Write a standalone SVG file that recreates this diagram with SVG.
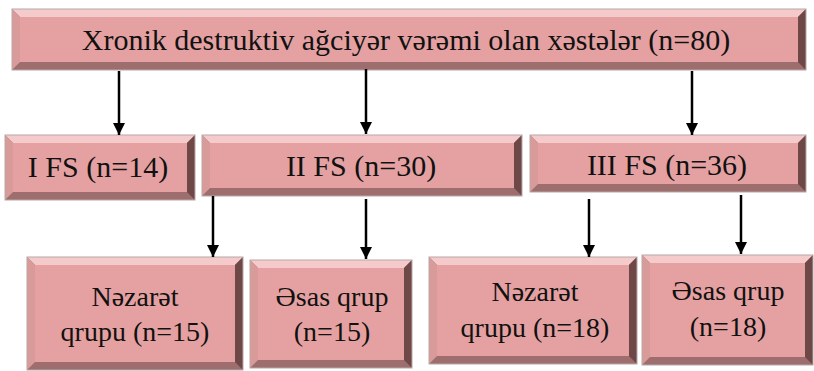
<svg xmlns="http://www.w3.org/2000/svg" width="814" height="371" viewBox="0 0 814 371">
<defs>
<marker id="ah" viewBox="0 0 10 10" refX="10" refY="5" markerWidth="5" markerHeight="5" orient="auto" markerUnits="strokeWidth">
<path d="M0,0 L10,5 L0,10 z" fill="#000"/>
</marker>
</defs>
<rect width="814" height="371" fill="#fff"/>

<g id="n-top" fill="#E5A1A1">
<rect fill="#9E6D6D" x="12" y="9" width="794" height="61"/>
<polygon fill="#F4CACA" points="12,9 806,9 798,17 20,17"/>
<polygon fill="#D99A9A" points="12,9 20,17 20,62 12,70"/>
<polygon fill="#6E4747" points="806,9 806,70 798,62 798,17"/>
<rect x="20" y="17" width="778" height="45"/>
<rect fill="none" stroke="#B8A8A8" x="12" y="9" width="794" height="61"/>
<text fill="#111" text-anchor="middle" font-family="'Liberation Serif', 'Times New Roman', serif" font-size="30" x="406" y="50">Xronik destruktiv ağciyər vərəmi olan xəstələr (n=80)</text>
</g>

<g id="n-fs1" fill="#E5A1A1">
<rect fill="#9E6D6D" x="5" y="135" width="190" height="65"/>
<polygon fill="#F4CACA" points="5,135 195,135 187,143 13,143"/>
<polygon fill="#D99A9A" points="5,135 13,143 13,192 5,200"/>
<polygon fill="#6E4747" points="195,135 195,200 187,192 187,143"/>
<rect x="13" y="143" width="174" height="49"/>
<rect fill="none" stroke="#B8A8A8" x="5" y="135" width="190" height="65"/>
<text fill="#111" text-anchor="middle" font-family="'Liberation Serif', 'Times New Roman', serif" font-size="30" x="98" y="177">I FS (n=14)</text>
</g>

<g id="n-fs2" fill="#E5A1A1">
<rect fill="#9E6D6D" x="202" y="135" width="320" height="61"/>
<polygon fill="#F4CACA" points="202,135 522,135 514,143 210,143"/>
<polygon fill="#D99A9A" points="202,135 210,143 210,188 202,196"/>
<polygon fill="#6E4747" points="522,135 522,196 514,188 514,143"/>
<rect x="210" y="143" width="304" height="45"/>
<rect fill="none" stroke="#B8A8A8" x="202" y="135" width="320" height="61"/>
<text fill="#111" text-anchor="middle" font-family="'Liberation Serif', 'Times New Roman', serif" font-size="30" x="361" y="176">II FS (n=30)</text>
</g>

<g id="n-fs3" fill="#E5A1A1">
<rect fill="#9E6D6D" x="530" y="135" width="276" height="57"/>
<polygon fill="#F4CACA" points="530,135 806,135 798,143 538,143"/>
<polygon fill="#D99A9A" points="530,135 538,143 538,184 530,192"/>
<polygon fill="#6E4747" points="806,135 806,192 798,184 798,143"/>
<rect x="538" y="143" width="260" height="41"/>
<rect fill="none" stroke="#B8A8A8" x="530" y="135" width="276" height="57"/>
<text fill="#111" text-anchor="middle" font-family="'Liberation Serif', 'Times New Roman', serif" font-size="30" x="667" y="175">III FS (n=36)</text>
</g>

<g id="n-n15" fill="#E5A1A1">
<rect fill="#9E6D6D" x="27" y="257" width="216" height="113"/>
<polygon fill="#F4CACA" points="27,257 243,257 235,265 35,265"/>
<polygon fill="#D99A9A" points="27,257 35,265 35,362 27,370"/>
<polygon fill="#6E4747" points="243,257 243,370 235,362 235,265"/>
<rect x="35" y="265" width="200" height="97"/>
<rect fill="none" stroke="#B8A8A8" x="27" y="257" width="216" height="113"/>
<text fill="#111" text-anchor="middle" font-family="'Liberation Serif', 'Times New Roman', serif" font-size="28" x="135" y="306">Nəzarət</text>
<text fill="#111" text-anchor="middle" font-family="'Liberation Serif', 'Times New Roman', serif" font-size="28" x="135" y="341">qrupu (n=15)</text>
</g>

<g id="n-e15" fill="#E5A1A1">
<rect fill="#9E6D6D" x="250" y="260" width="162" height="108"/>
<polygon fill="#F4CACA" points="250,260 412,260 404,268 258,268"/>
<polygon fill="#D99A9A" points="250,260 258,268 258,360 250,368"/>
<polygon fill="#6E4747" points="412,260 412,368 404,360 404,268"/>
<rect x="258" y="268" width="146" height="92"/>
<rect fill="none" stroke="#B8A8A8" x="250" y="260" width="162" height="108"/>
<text fill="#111" text-anchor="middle" font-family="'Liberation Serif', 'Times New Roman', serif" font-size="28" x="332" y="306">Əsas qrup</text>
<text fill="#111" text-anchor="middle" font-family="'Liberation Serif', 'Times New Roman', serif" font-size="28" x="332" y="341">(n=15)</text>
</g>

<g id="n-n18" fill="#E5A1A1">
<rect fill="#9E6D6D" x="429" y="257" width="208" height="107"/>
<polygon fill="#F4CACA" points="429,257 637,257 629,265 437,265"/>
<polygon fill="#D99A9A" points="429,257 437,265 437,356 429,364"/>
<polygon fill="#6E4747" points="637,257 637,364 629,356 629,265"/>
<rect x="437" y="265" width="192" height="91"/>
<rect fill="none" stroke="#B8A8A8" x="429" y="257" width="208" height="107"/>
<text fill="#111" text-anchor="middle" font-family="'Liberation Serif', 'Times New Roman', serif" font-size="28" x="535" y="301">Nəzarət</text>
<text fill="#111" text-anchor="middle" font-family="'Liberation Serif', 'Times New Roman', serif" font-size="28" x="535" y="337">qrupu (n=18)</text>
</g>

<g id="n-e18" fill="#E5A1A1">
<rect fill="#9E6D6D" x="642" y="255" width="171" height="110"/>
<polygon fill="#F4CACA" points="642,255 813,255 805,263 650,263"/>
<polygon fill="#D99A9A" points="642,255 650,263 650,357 642,365"/>
<polygon fill="#6E4747" points="813,255 813,365 805,357 805,263"/>
<rect x="650" y="263" width="155" height="94"/>
<rect fill="none" stroke="#B8A8A8" x="642" y="255" width="171" height="110"/>
<text fill="#111" text-anchor="middle" font-family="'Liberation Serif', 'Times New Roman', serif" font-size="28" x="728" y="300">Əsas qrup</text>
<text fill="#111" text-anchor="middle" font-family="'Liberation Serif', 'Times New Roman', serif" font-size="28" x="728" y="336">(n=18)</text>
</g>

<g id="connectors" stroke="#000" stroke-width="2.5">
<line x1="119" y1="71" x2="119" y2="135" marker-end="url(#ah)"/>
<line x1="366" y1="69" x2="366" y2="134" marker-end="url(#ah)"/>
<line x1="692" y1="71" x2="692" y2="135" marker-end="url(#ah)"/>
<line x1="213" y1="196" x2="213" y2="257" marker-end="url(#ah)"/>
<line x1="366" y1="199" x2="366" y2="259" marker-end="url(#ah)"/>
<line x1="589" y1="199" x2="589" y2="257" marker-end="url(#ah)"/>
<line x1="741" y1="195" x2="741" y2="254" marker-end="url(#ah)"/>
</g>
</svg>
